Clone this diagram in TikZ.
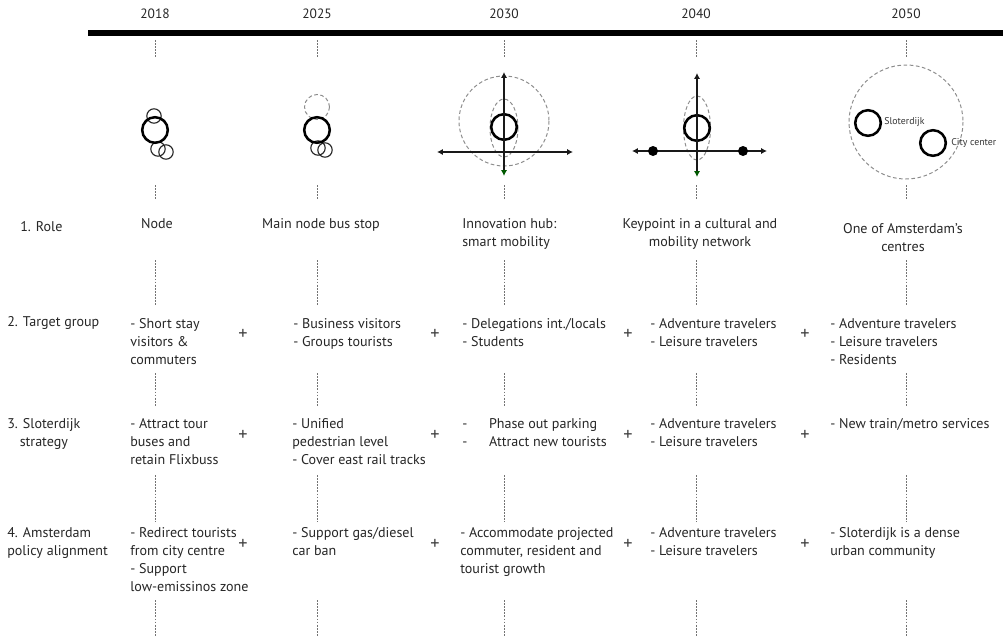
\documentclass[tikz,border=0pt]{standalone}
\usepackage{fontspec}
\setmainfont{PT Sans}
\usetikzlibrary{arrows.meta}
\tikzset{
  yr/.style={font=\fontsize{9.6}{11}\selectfont,text=black!85,inner sep=0pt},
  hd/.style={font=\fontsize{10}{12.8}\selectfont,text=black!85,align=left,anchor=north west,inner sep=0pt},
  tx/.style={font=\fontsize{10}{12.8}\selectfont,text=black!85,align=left,anchor=north west,inner sep=0pt},
  txc/.style={tx,align=center,anchor=north},
  pl/.style={font=\fontsize{13}{14}\selectfont,text=black!75,inner sep=0pt},
  tag/.style={font=\fontsize{7}{8}\selectfont,text=black!80,anchor=west,inner sep=0pt},
  gd/.style={draw=black!55,line width=.6pt,dash pattern=on 1.3pt off .9pt},
  ring/.style={circle,draw=black,line width=1.8pt,minimum size=.64cm,inner sep=0pt},
  sring/.style={circle,draw=black!85,line width=.8pt,minimum size=.36cm,inner sep=0pt},
  dot/.style={circle,fill=black,minimum size=.25cm,inner sep=0pt},
  dsh/.style={draw=black!45,line width=.7pt,dash pattern=on 2.6pt off 1.8pt},
  ax/.style={draw=black!90,line width=1.4pt,{Latex[length=4.2pt,width=4.4pt]}-{Latex[length=4.2pt,width=4.4pt]}},
  axg/.style={draw=black!90,line width=1.4pt,{Latex[length=4.2pt,width=4.4pt,color=green!35!black]}-{Latex[length=4.2pt,width=4.4pt]}},
}
\begin{document}
\begin{tikzpicture}[x=0.025cm,y=-0.025cm]
\useasboundingbox (0,0) rectangle (1003,637);
% timeline bar and years
\fill[black] (88,30) rectangle (1003,36.5);
\foreach \c/\x in {18/155,25/317,30/504,40/696,50/906}{
  \node[yr] (y\c) at (\x,14) {20\c};
  \foreach \a/\b in {40/58,185/200,260/306,373/406,475/522,600/637}
    \draw[gd] (\x,\a) -- (\x,\b);
}
% --- 2018
\node[sring] (n18a) at (154,116) {};
\node[sring] (n18b) at (158,149) {};
\node[sring] (n18c) at (166,152) {};
\node[ring] (n18) at (155,130) {};
% --- 2025
\draw[dsh] (317,107) circle [radius=12.5];
\node[sring] (n25b) at (318,148) {};
\node[sring] (n25c) at (325,150) {};
\node[ring] (n25) at (317,130) {};
% --- 2030
\draw[dsh] (504,121) circle [radius=45];
\draw[dsh] (504,128) ellipse [x radius=14,y radius=29];
\node[ring] (n30) at (504,127) {};
\coordinate (h30l) at (437,152); \coordinate (h30r) at (573,152);
\coordinate (v30t) at (504,72);  \coordinate (v30b) at (504,176);
\draw[ax] (h30l) -- (h30r);
\draw[axg] (v30b) -- (v30t);
% --- 2040
\draw[dsh] (697,128) ellipse [x radius=13.5,y radius=32];
\node[ring] (n40) at (697,128) {};
\coordinate (h40l) at (632,151); \coordinate (h40r) at (767,151);
\coordinate (v40t) at (697,73);  \coordinate (v40b) at (697,177);
\draw[ax] (h40l) -- (h40r);
\draw[axg] (v40b) -- (v40t);
\node[dot] (d40a) at (653,151) {};
\node[dot] (d40b) at (743,151) {};
% --- 2050
\draw[dsh] (906,122) circle [radius=57];
\node[ring] (n50a) at (868,123) {};
\node[ring] (n50b) at (933,143) {};
\node[tag] (l50a) at (884,122) {Sloterdijk};
\node[tag] (l50b) at (951,143) {City center};
% row heads
\node[hd,anchor=west] (h1) at (20,227) {1. Role};
\node[hd,anchor=west] (h2) at (7,323) {2. Target group};
\node[hd,align=center] (h3) at (7,418) {3. Sloterdijk\\strategy};
\node[hd] (h4) at (7,527) {4. Amsterdam\\policy alignment};
% 1. role
\node[txc] (r18) at (157,218) {Node};
\node[txc] (r25) at (321,218) {Main node bus stop};
\node[tx] (r30) at (462,218) {Innovation hub:\\smart mobility};
\node[txc] (r40) at (700,218) {Keypoint in a cultural and\\mobility network};
\node[txc] (r50) at (903,223) {One of Amsterdam's\\centres};
% 2. target group
\node[tx] (t18) at (130,318) {- Short stay\\visitors \&\\commuters};
\node[tx] (t25) at (293,318) {- Business visitors\\- Groups tourists};
\node[tx] (t30) at (462,318) {- Delegations int./locals\\- Students};
\node[tx] (t40) at (650,318) {- Adventure travelers\\- Leisure travelers};
\node[tx] (t50) at (830,318) {- Adventure travelers\\- Leisure travelers\\- Residents};
% 3. strategy
\node[tx] (s18) at (130,418) {- Attract tour\\buses and\\retain Flixbuss};
\node[tx] (s25) at (292,418) {- Unified\\pedestrian level\\- Cover east rail tracks};
\node[tx] (s30) at (462,418) {\makebox[19pt][l]{-}Phase out parking\\\makebox[19pt][l]{-}Attract new tourists};
\node[tx] (s40) at (650,418) {- Adventure travelers\\- Leisure travelers};
\node[tx] (s50) at (830,418) {- New train/metro services};
% 4. policy
\node[tx] (p18) at (130,527) {- Redirect tourists\\from city centre\\- Support\\low-emissinos zone};
\node[tx] (p25) at (292,527) {- Support gas/diesel\\car ban};
\node[tx] (p30) at (460,527) {- Accommodate projected\\commuter, resident and\\tourist growth};
\node[tx] (p40) at (650,527) {- Adventure travelers\\- Leisure travelers};
\node[tx] (p50) at (830,527) {- Sloterdijk is a dense\\urban community};
% plus signs between columns
\foreach \k/\x in {a/243,b/435,c/628,d/805}{
  \node[pl] (pt\k) at (\x,334) {+};
  \node[pl] (ps\k) at (\x,435) {+};
  \node[pl] (pp\k) at (\x,544) {+};
}
\end{tikzpicture}
\end{document}
